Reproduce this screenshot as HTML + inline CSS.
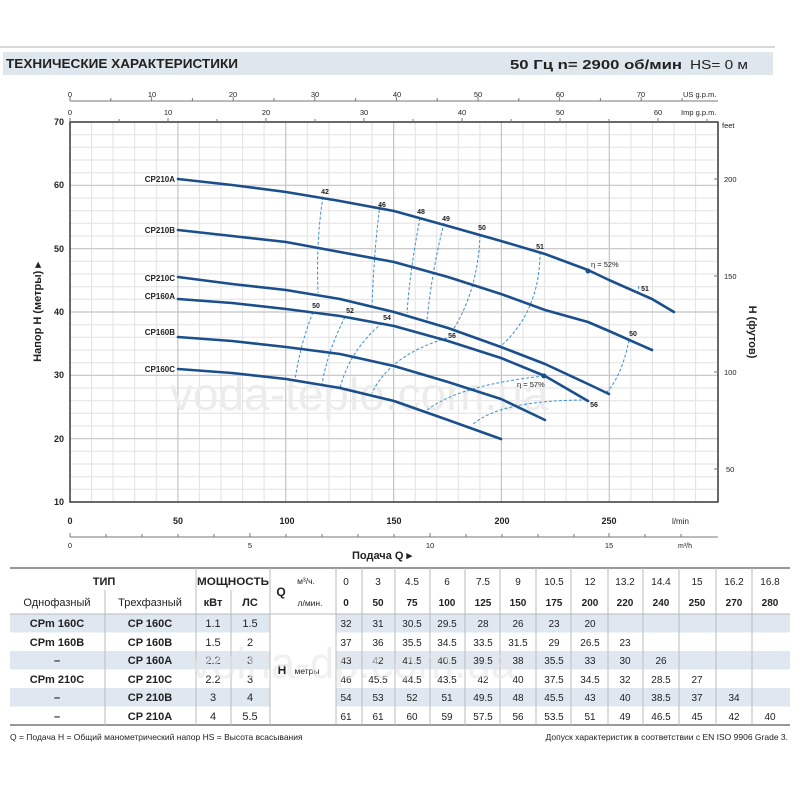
<!DOCTYPE html>
<html><head><meta charset="utf-8"><style>
body{margin:0;background:#fff}
svg{display:block}
text{font-family:"Liberation Sans",sans-serif}
</style></head><body>
<svg width="800" height="800" viewBox="0 0 800 800" xmlns="http://www.w3.org/2000/svg">
<rect width="800" height="800" fill="#fff"/>
<!-- header -->
<line x1="0" y1="47" x2="775" y2="47" stroke="#ccc" stroke-width="1.5"/>
<rect x="3" y="52" width="770" height="23" fill="#dfe7ee"/>
<text x="6" y="68" font-size="13" font-weight="bold" fill="#222" textLength="232" lengthAdjust="spacingAndGlyphs">ТЕХНИЧЕСКИЕ ХАРАКТЕРИСТИКИ</text>
<text x="510" y="69" font-size="12.5" font-weight="bold" fill="#222" textLength="172" lengthAdjust="spacingAndGlyphs">50 Гц   n= 2900  об/мин</text>
<text x="690" y="69" font-size="12.5" fill="#222" textLength="58" lengthAdjust="spacingAndGlyphs">HS= 0 м</text>

<!-- grid -->
<g stroke="#e2e2e2" stroke-width="1">
<path d="M91.6 122V502M113.1 122V502M134.7 122V502M156.3 122V502M199.4 122V502M221 122V502M242.6 122V502M264.1 122V502M307.3 122V502M328.9 122V502M350.4 122V502M372 122V502M415.2 122V502M436.7 122V502M458.3 122V502M479.9 122V502M523 122V502M544.6 122V502M566.1 122V502M587.7 122V502M630.9 122V502M652.4 122V502M674 122V502M695.6 122V502"/>
<path d="M70 134.7H718M70 147.3H718M70 160H718M70 172.7H718M70 198H718M70 210.7H718M70 223.3H718M70 236H718M70 261.3H718M70 274H718M70 286.7H718M70 299.3H718M70 324.7H718M70 337.3H718M70 350H718M70 362.7H718M70 388H718M70 400.7H718M70 413.3H718M70 426H718M70 451.3H718M70 464H718M70 476.7H718M70 489.3H718"/>
</g>
<g stroke="#c4c4c4" stroke-width="1.2">
<path d="M177.9 122V502M285.7 122V502M393.6 122V502M501.4 122V502M609.3 122V502"/>
<path d="M70 185.3H718M70 248.7H718M70 312H718M70 375.3H718M70 438.7H718"/>
</g>
<text x="170" y="410" font-size="46" fill="#ececec">voda-teplo.com.ua</text>
<rect x="70" y="122" width="648" height="380" fill="none" stroke="#444" stroke-width="1.6"/>

<!-- top axes -->
<g stroke="#777" stroke-width="1">
<line x1="70" y1="101" x2="718" y2="101"/>
<path d="M70 101v-4M110.8 101v-3M151.6 101v-4M192.4 101v-3M233.2 101v-4M274 101v-3M314.8 101v-4M355.6 101v-3M396.4 101v-4M437.2 101v-3M478 101v-4M518.8 101v-3M559.6 101v-4M600.4 101v-3M641.2 101v-4M682 101v-3"/>
<path d="M70 122v-4M119 122v-3M168 122v-4M217 122v-3M266 122v-4M315 122v-3M364 122v-4M413 122v-3M462 122v-4M511 122v-3M560 122v-4M609 122v-3M658 122v-4M707 122v-3"/>
</g>
<g font-size="7.5" fill="#222" text-anchor="middle">
<text x="70" y="97">0</text><text x="152" y="97">10</text><text x="233" y="97">20</text><text x="315" y="97">30</text><text x="397" y="97">40</text><text x="478" y="97">50</text><text x="560" y="97">60</text><text x="641" y="97">70</text>
<text x="70" y="115">0</text><text x="168" y="115">10</text><text x="266" y="115">20</text><text x="364" y="115">30</text><text x="462" y="115">40</text><text x="560" y="115">50</text><text x="658" y="115">60</text>
</g>
<text x="683" y="97" font-size="7.5" fill="#222">US g.p.m.</text>
<text x="681" y="115" font-size="7.5" fill="#222">Imp g.p.m.</text>

<!-- left axis -->
<g font-size="9" fill="#222" text-anchor="end" font-weight="bold">
<text x="64" y="125">70</text><text x="64" y="188">60</text><text x="64" y="252">50</text><text x="64" y="315">40</text><text x="64" y="378">30</text><text x="64" y="442">20</text><text x="64" y="505">10</text>
</g>
<text transform="translate(41 312) rotate(-90)" font-size="11" font-weight="bold" fill="#222" text-anchor="middle">Напор H (метры) ▸</text>
<!-- right axis -->
<g stroke="#777"><path d="M718 179h-4M718 276h-4M718 372h-4M718 469h-4"/></g>
<g font-size="7.5" fill="#222">
<text x="722" y="128">feet</text><text x="724" y="182">200</text><text x="724" y="279">150</text><text x="724" y="375">100</text><text x="726" y="472">50</text>
</g>
<text transform="translate(749 332) rotate(90)" font-size="11" font-weight="bold" fill="#222" text-anchor="middle">H (футов)</text>

<!-- bottom axes -->
<g font-size="9" fill="#222" text-anchor="middle" font-weight="bold">
<text x="70" y="524">0</text><text x="178" y="524">50</text><text x="287" y="524">100</text><text x="394" y="524">150</text><text x="502" y="524">200</text><text x="609" y="524">250</text>
</g>
<text x="672" y="524" font-size="8" fill="#222">l/min</text>
<line x1="70" y1="537" x2="718" y2="537" stroke="#777"/>
<g stroke="#777"><path d="M70 537v-4M106 537v-3M142 537v-3M178 537v-3M214 537v-3M250 537v-4M286 537v-3M322 537v-3M358 537v-3M394 537v-3M430 537v-4M466 537v-3M502 537v-3M538 537v-3M574 537v-3M609 537v-4M645 537v-3M681 537v-3"/></g>
<g font-size="7.5" fill="#222" text-anchor="middle">
<text x="70" y="548">0</text><text x="250" y="548">5</text><text x="430" y="548">10</text><text x="609" y="548">15</text>
</g>
<text x="678" y="548" font-size="7" fill="#222">m³/h</text>
<text x="352" y="559" font-size="11" font-weight="bold" fill="#222">Подача Q  ▸</text>

<!-- efficiency dashed lines -->
<g fill="none" stroke="#3a8fd0" stroke-width="1" stroke-dasharray="3,2">
<path d="M323 197Q316 240 318 293"/>
<path d="M380 205Q374 250 372 307"/>
<path d="M420 218Q410 270 407 313"/>
<path d="M444 223Q432 270 427 320"/>
<path d="M480 235Q478 290 453 330"/>
<path d="M540 252Q540 310 502 345"/>
<path d="M639 286L637 295"/>
<path d="M629 340Q622 375 607 392"/>
<path d="M313 312Q300 345 295 380"/>
<path d="M345 317Q328 350 322 384"/>
<path d="M382 323Q350 350 340 388"/>
<path d="M447 338Q390 355 372 393"/>
<path d="M544 376Q460 385 427 410"/>
<path d="M587 400Q500 400 472 425"/>
</g>

<!-- curves -->
<g fill="none" stroke="#1b4f8c" stroke-width="2.6" stroke-linejoin="round" stroke-linecap="round">
<polyline points="178,179 232,185 286,192 340,201 394,211 448,226 501,241 545,254 588,270 609,280 652,299 674,312"/>
<polyline points="178,230 232,236 286,242 340,252 394,262 448,277 501,294 545,310 588,322 609,331 652,350"/>
<polyline points="178,277 232,284 286,290 340,299 394,312 448,328 501,347 545,364 588,384 609,394"/>
<polyline points="178,299 232,303 286,309 340,316 394,326 448,341 501,358 545,376 588,401"/>
<polyline points="178,337 232,341 286,347 340,354 394,366 448,382 501,399 545,420"/>
<polyline points="178,369 232,373 286,379 340,388 394,401 448,420 501,439"/>
</g>
<circle cx="588" cy="271" r="2.5" fill="#1b4f8c"/>
<circle cx="544" cy="376" r="2.5" fill="#1b4f8c"/>
<g font-size="8" font-weight="bold" fill="#222" text-anchor="end">
<text x="175" y="182">CP210A</text><text x="175" y="233">CP210B</text><text x="175" y="281">CP210C</text><text x="175" y="299">CP160A</text><text x="175" y="335">CP160B</text><text x="175" y="372">CP160C</text>
</g>
<g font-size="7" font-weight="bold" fill="#222" text-anchor="middle">
<text x="325" y="194">42</text><text x="382" y="207">46</text><text x="421" y="214">48</text><text x="446" y="221">49</text><text x="482" y="230">50</text><text x="540" y="249">51</text><text x="645" y="291">51</text><text x="633" y="336">50</text>
<text x="316" y="308">50</text><text x="350" y="313">52</text><text x="387" y="320">54</text><text x="452" y="338">56</text><text x="594" y="407">56</text>
</g>
<text x="591" y="267" font-size="7.5" fill="#222">η = 52%</text>
<text x="517" y="387" font-size="7.5" fill="#222">η = 57%</text>

<!-- table -->
<line x1="10" y1="568" x2="790" y2="568" stroke="#999" stroke-width="2"/>
<rect x="10" y="614" width="260" height="18.5" fill="#dfe8f0"/><rect x="336" y="614" width="454" height="18.5" fill="#dfe8f0"/>
<rect x="10" y="651" width="260" height="18.5" fill="#dfe8f0"/><rect x="336" y="651" width="454" height="18.5" fill="#dfe8f0"/>
<rect x="10" y="688" width="260" height="18.5" fill="#dfe8f0"/><rect x="336" y="688" width="454" height="18.5" fill="#dfe8f0"/>
<line x1="10" y1="725" x2="790" y2="725" stroke="#999" stroke-width="2"/>
<g stroke="#bbb" stroke-width="1">
<path d="M196 568V725M231 590V725M270 568V725M105 590V725M336 568V725M362 568V725M395 568V725M430 568V725M465 568V725M500 568V725M536 568V725M571 568V725M608 568V725M643 568V725M679 568V725M716 568V725M752 568V725"/>
<line x1="10" y1="614" x2="790" y2="614"/>
</g>
<g font-size="11" fill="#222" text-anchor="middle">
<text x="104" y="585" font-weight="bold">ТИП</text>
<text x="233" y="585" font-weight="bold" textLength="72" lengthAdjust="spacingAndGlyphs">МОЩНОСТЬ</text>
<text x="57" y="606">Однофазный</text><text x="150" y="606">Трехфазный</text>
<text x="213" y="606" font-weight="bold">кВт</text><text x="250" y="606" font-weight="bold">ЛС</text>
<text x="281" y="596" font-weight="bold" font-size="12">Q</text>
<text x="306" y="584" font-size="8.5">м³/ч.</text><text x="310" y="606" font-size="8.5">л/мин.</text>
<text x="282" y="674" font-weight="bold" font-size="12">H</text><text x="307" y="674" font-size="8.5">метры</text>
</g>
<g font-size="10" fill="#222" text-anchor="middle">
<text y="585"><tspan x="346">0</tspan><tspan x="378">3</tspan><tspan x="412">4.5</tspan><tspan x="447">6</tspan><tspan x="483">7.5</tspan><tspan x="518">9</tspan><tspan x="554">10.5</tspan><tspan x="590">12</tspan><tspan x="625">13.2</tspan><tspan x="661">14.4</tspan><tspan x="697">15</tspan><tspan x="734">16.2</tspan><tspan x="770">16.8</tspan></text>
<text y="606" font-weight="bold"><tspan x="346">0</tspan><tspan x="378">50</tspan><tspan x="412">75</tspan><tspan x="447">100</tspan><tspan x="483">125</tspan><tspan x="518">150</tspan><tspan x="554">175</tspan><tspan x="590">200</tspan><tspan x="625">220</tspan><tspan x="661">240</tspan><tspan x="697">250</tspan><tspan x="734">270</tspan><tspan x="770">280</tspan></text>
<text y="627"><tspan x="346">32</tspan><tspan x="378">31</tspan><tspan x="412">30.5</tspan><tspan x="447">29.5</tspan><tspan x="483">28</tspan><tspan x="518">26</tspan><tspan x="554">23</tspan><tspan x="590">20</tspan></text>
<text y="646"><tspan x="346">37</tspan><tspan x="378">36</tspan><tspan x="412">35.5</tspan><tspan x="447">34.5</tspan><tspan x="483">33.5</tspan><tspan x="518">31.5</tspan><tspan x="554">29</tspan><tspan x="590">26.5</tspan><tspan x="625">23</tspan></text>
<text y="664"><tspan x="346">43</tspan><tspan x="378">42</tspan><tspan x="412">41.5</tspan><tspan x="447">40.5</tspan><tspan x="483">39.5</tspan><tspan x="518">38</tspan><tspan x="554">35.5</tspan><tspan x="590">33</tspan><tspan x="625">30</tspan><tspan x="661">26</tspan></text>
<text y="683"><tspan x="346">46</tspan><tspan x="378">45.5</tspan><tspan x="412">44.5</tspan><tspan x="447">43.5</tspan><tspan x="483">42</tspan><tspan x="518">40</tspan><tspan x="554">37.5</tspan><tspan x="590">34.5</tspan><tspan x="625">32</tspan><tspan x="661">28.5</tspan><tspan x="697">27</tspan></text>
<text y="701"><tspan x="346">54</tspan><tspan x="378">53</tspan><tspan x="412">52</tspan><tspan x="447">51</tspan><tspan x="483">49.5</tspan><tspan x="518">48</tspan><tspan x="554">45.5</tspan><tspan x="590">43</tspan><tspan x="625">40</tspan><tspan x="661">38.5</tspan><tspan x="697">37</tspan><tspan x="734">34</tspan></text>
<text y="720"><tspan x="346">61</tspan><tspan x="378">61</tspan><tspan x="412">60</tspan><tspan x="447">59</tspan><tspan x="483">57.5</tspan><tspan x="518">56</tspan><tspan x="554">53.5</tspan><tspan x="590">51</tspan><tspan x="625">49</tspan><tspan x="661">46.5</tspan><tspan x="697">45</tspan><tspan x="734">42</tspan><tspan x="770">40</tspan></text>
</g>
<g font-size="11" fill="#222" text-anchor="middle" font-weight="bold">
<text x="57" y="627">CPm 160C</text><text x="150" y="627">CP 160C</text><text x="213" y="627" font-weight="normal">1.1</text><text x="250" y="627" font-weight="normal">1.5</text>
<text x="57" y="646">CPm 160B</text><text x="150" y="646">CP 160B</text><text x="213" y="646" font-weight="normal">1.5</text><text x="250" y="646" font-weight="normal">2</text>
<text x="57" y="664">–</text><text x="150" y="664">CP 160A</text><text x="213" y="664" font-weight="normal">2.2</text><text x="250" y="664" font-weight="normal">3</text>
<text x="57" y="683">CPm 210C</text><text x="150" y="683">CP 210C</text><text x="213" y="683" font-weight="normal">2.2</text><text x="250" y="683" font-weight="normal">3</text>
<text x="57" y="701">–</text><text x="150" y="701">CP 210B</text><text x="213" y="701" font-weight="normal">3</text><text x="250" y="701" font-weight="normal">4</text>
<text x="57" y="720">–</text><text x="150" y="720">CP 210A</text><text x="213" y="720" font-weight="normal">4</text><text x="250" y="720" font-weight="normal">5.5</text>
</g>
<text x="190" y="678" font-size="44" fill="#e6e6e6" fill-opacity="0.6">volna-dp.com.ua</text>
<text x="10" y="740" font-size="8.5" fill="#222">Q = Подача   H = Общий манометрический напор   HS = Высота всасывания</text>
<text x="788" y="740" font-size="8.5" fill="#222" text-anchor="end">Допуск характеристик в соответствии с EN ISO 9906 Grade 3.</text>
</svg>
</body></html>
